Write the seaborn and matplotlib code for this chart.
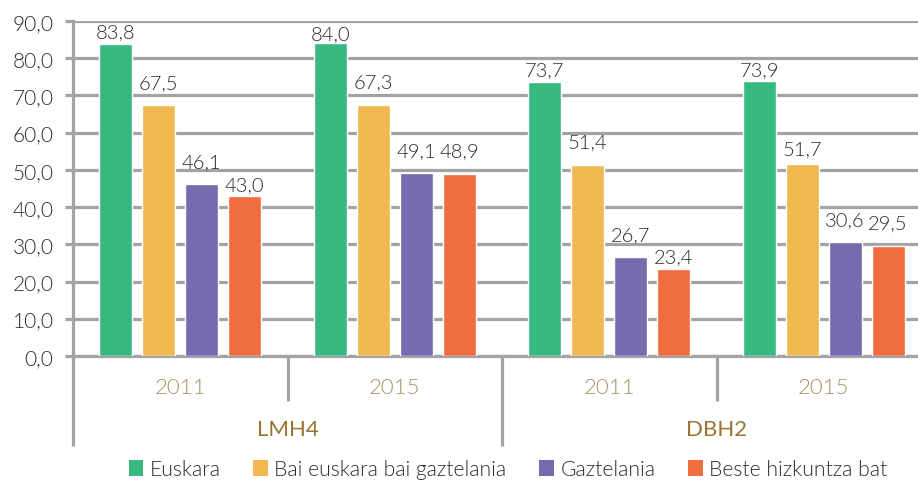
import matplotlib
matplotlib.use("Agg")
import matplotlib.pyplot as plt
import matplotlib.transforms as mtransforms
from matplotlib.patches import Patch
import pandas as pd
import seaborn as sns

# ---- data -------------------------------------------------------------
levels = ["LMH4", "DBH2"]
years = ["2011", "2015"]
series = ["Euskara", "Bai euskara bai gaztelania", "Gaztelania", "Beste hizkuntza bat"]
euskara = [83.8, 84.0, 73.7, 73.9]
biak = [67.5, 67.3, 51.4, 51.7]
gaztelania = [46.1, 49.1, 26.7, 30.6]
beste = [43.0, 48.9, 23.4, 29.5]
y_ticks = [0, 10, 20, 30, 40, 50, 60, 70, 80, 90]

# gap (pixels) between each value label and the top of its bar
label_gap = [
    [6, 3, 5, 4],
    [15, 17, 16, 8],
    [16, 16, 15, 16],
    [4, 16, 5, 17],
]

colors = ["#38b97f", "#efb94f", "#746cae", "#f06d3f"]
grid_col = "#a3a3a7"
text_col = "#2b2b2b"
year_col = "#a8915f"
level_col = "#9b7431"

categories = [f"{lv} {yr}" for lv in levels for yr in years]
values = [euskara, biak, gaztelania, beste]
df = pd.DataFrame(
    [(c, s, v[i]) for s, v in zip(series, values) for i, c in enumerate(categories)],
    columns=["cat", "series", "value"],
)

sns.set_theme(style="white")
plt.rcParams["font.family"] = ["Lato", "DejaVu Sans"]
plt.rcParams["font.weight"] = 300

W, H = 918, 502
fig = plt.figure(figsize=(W / 100, H / 100), dpi=100)
x0, x1, ytop, ybot = 73, 931, 22, 357
ax = fig.add_axes([x0 / W, (H - ybot) / H, (x1 - x0) / W, (ybot - ytop) / H])

sns.barplot(
    data=df, x="cat", y="value", hue="series", order=categories,
    hue_order=series, palette=colors, width=0.8, gap=0.23,
    saturation=1, ax=ax, legend=False, zorder=3,
)

ax.set_xlim(-0.5, 3.5)
ax.set_ylim(0, 90)
ax.set_yticks(y_ticks)
ax.set_yticklabels([f"{t:.1f}".replace(".", ",") for t in y_ticks],
                   fontsize=15, color=text_col)
ax.set_xticks([])
ax.set_xlabel("")
ax.set_ylabel("")

lw = 2.3
ax.yaxis.grid(True, color=grid_col, linewidth=lw, zorder=0)
ax.set_axisbelow(True)
for side in ["top", "right"]:
    ax.spines[side].set_visible(False)
for side in ["left", "bottom"]:
    ax.spines[side].set_color(grid_col)
    ax.spines[side].set_linewidth(lw)
ax.tick_params(axis="y", length=6, width=lw, color=grid_col, pad=8, left=True)

# value labels above the bars
for si, cont in enumerate(ax.containers):
    for ci, bar in enumerate(cont):
        v = values[si][ci]
        ax.annotate(
            f"{v:.1f}".replace(".", ","),
            (bar.get_x() + bar.get_width() / 2, bar.get_height()),
            xytext=(0, label_gap[si][ci] + 1), textcoords="offset pixels",
            ha="center", va="baseline", fontsize=14.5, color=text_col,
            zorder=4,
        )

# two-level category axis below the plot
trans = mtransforms.blended_transform_factory(ax.transData, ax.transAxes)
plot_h = ybot - ytop
short = -(402 - ybot) / plot_h
long_ = -(447 - ybot) / plot_h
for xs, depth in [(-0.5, long_), (0.5, short), (1.5, long_), (2.5, short)]:
    ax.plot([xs, xs], [0, depth], color=grid_col, lw=lw, transform=trans,
            clip_on=False, solid_capstyle="butt")

year_y = -(388 - ybot) / plot_h
level_y = -(430 - ybot) / plot_h
for i, c in enumerate(categories):
    ax.text(i, year_y, years[i % 2], transform=trans, ha="center", va="center",
            fontsize=16, color=year_col)
for j, lv in enumerate(levels):
    ax.text(0.5 + 2 * j, level_y, lv, transform=trans, ha="center",
            va="center", fontsize=16, color=level_col, fontweight="normal")

handles = [Patch(facecolor=c, edgecolor="none") for c in colors]
fig.legend(
    handles, series, loc="center", bbox_to_anchor=(508 / W, (H - 470) / H),
    ncol=4, frameon=False, fontsize=15.2, handlelength=0.7, handleheight=0.8,
    handletextpad=0.3, columnspacing=1.55, labelcolor=text_col,
)

fig.savefig("out.png", dpi=100)
